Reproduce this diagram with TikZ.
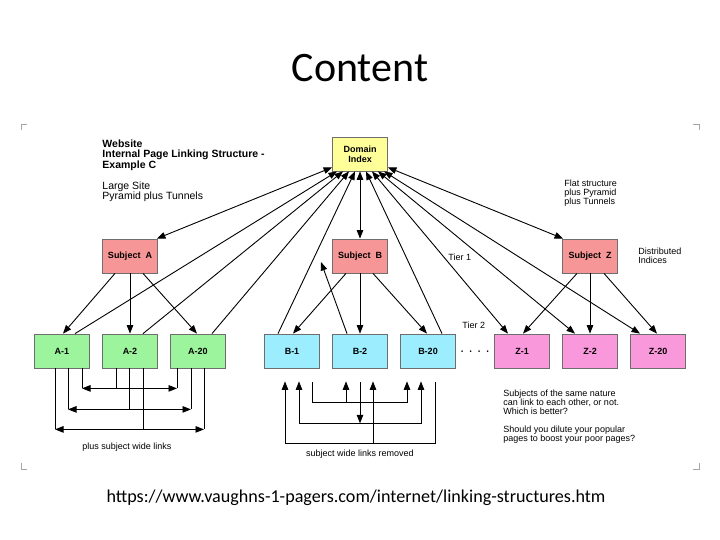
\documentclass[tikz,border=0pt]{standalone}
\usepackage{fontspec}
\setmainfont{Liberation Sans}
\newfontfamily\calfont{Carlito}
\usetikzlibrary{arrows.meta}
\definecolor{diyel}{HTML}{FFFF99}
\definecolor{subred}{HTML}{F79696}
\definecolor{agreen}{HTML}{9CF59C}
\definecolor{bcyan}{HTML}{9CEEFF}
\definecolor{zpink}{HTML}{FA98DC}
\definecolor{boxborder}{HTML}{6E6E6E}
\begin{document}
\begin{tikzpicture}[x=1pt,y=-1pt,line width=0.9pt,
  box/.style={draw=boxborder,line width=0.8pt,minimum width=55pt,minimum height=34pt,inner sep=0pt,
    font=\fontsize{9}{10}\selectfont\bfseries,align=center},
  arr/.style={-{Triangle[length=8.5pt,width=6.5pt]}},
  darr/.style={{Triangle[length=8.5pt,width=6.5pt]}-{Triangle[length=8.5pt,width=6.5pt]}},
  txt/.style={inner sep=0pt,anchor=north west,align=left},
  corner/.style={draw=gray!70,line width=0.8pt}]
\fill[white] (0,0) rectangle (720,540);
\useasboundingbox (0,0) rectangle (720,540);

% title and url
\node[font=\calfont\fontsize{42}{42}\selectfont] (title) at (360,68) {Content};
\node[font=\calfont\fontsize{18.1}{18}\selectfont] (url) at (356,498) {https://www.vaughns-1-pagers.com/internet/linking-structures.htm};

% corner marks
\draw[corner] (21,130) -- (21,124) -- (27,124);
\draw[corner] (693,124) -- (699,124) -- (699,130);
\draw[corner] (21,463) -- (21,469) -- (27,469);
\draw[corner] (693,469) -- (699,469) -- (699,463);

% boxes
\node[box,fill=diyel] (di) at (360,154) {Domain\\Index};
\node[box,fill=subred] (sa) at (130,256) {Subject\ \ A};
\node[box,fill=subred] (sb) at (360,256) {Subject\ \ B};
\node[box,fill=subred] (sz) at (590,256) {Subject\ \ Z};
\node[box,fill=agreen] (a1) at (62,351) {A-1};
\node[box,fill=agreen] (a2) at (130,351) {A-2};
\node[box,fill=agreen] (a20) at (198,351) {A-20};
\node[box,fill=bcyan] (b1) at (292,351) {B-1};
\node[box,fill=bcyan] (b2) at (360,351) {B-2};
\node[box,fill=bcyan] (b20) at (428,351) {B-20};
\node[box,fill=zpink] (z1) at (522,351) {Z-1};
\node[box,fill=zpink] (z2) at (590,351) {Z-2};
\node[box,fill=zpink] (z20) at (658,351) {Z-20};

% texts
\node[txt,font=\fontsize{10.5}{10.5}\selectfont\bfseries] (head) at (102,139)
  {Website\\Internal Page Linking Structure -\\Example C};
\node[txt,font=\fontsize{10.5}{10.5}\selectfont] (large) at (102,181)
  {Large Site\\Pyramid plus Tunnels};
\node[txt,font=\fontsize{9}{9}\selectfont] (flat) at (564,179.5)
  {Flat structure\\plus Pyramid\\plus Tunnels};
\node[txt,font=\fontsize{9}{9}\selectfont] (dist) at (638,247.5)
  {Distributed\\Indices};
\node[txt,font=\fontsize{9}{9}\selectfont] (tier1) at (448,253.5) {Tier 1};
\node[txt,font=\fontsize{9}{9}\selectfont] (tier2) at (462,321.5) {Tier 2};
\node[txt,font=\fontsize{9}{9}\selectfont] (quest) at (503,389.5)
  {Subjects of the same nature\\can link to each other, or not.\\Which is better?\\[9pt]Should you dilute your popular\\pages to boost your poor pages?};
\node[inner sep=0pt,font=\fontsize{9}{9}\selectfont] (plbl) at (127,447) {plus subject wide links};
\node[inner sep=0pt,font=\fontsize{9}{9}\selectfont] (rlbl) at (360,454) {subject wide links removed};
\node[inner sep=0pt,font=\fontsize{14}{14}\selectfont] (dots) at (475,353) {· · · ·};

% domain index <-> subjects
\draw[darr] ([yshift=4pt]di.south west) -- ([xshift=-1pt]sa.north east);
\draw[darr] (di.south) -- (sb.north);
\draw[darr] ([yshift=4pt]di.south east) -- ([xshift=1pt]sz.north west);

% tier 2 -> domain index
\draw[arr] ([xshift=13pt]a1.north) -- ([xshift=-23pt]di.south);
\draw[arr] ([xshift=13pt]a2.north) -- ([xshift=-17pt]di.south);
\draw[arr] ([xshift=14pt]a20.north) -- ([xshift=-11pt]di.south);
\draw[arr] ([xshift=-14pt]b1.north) -- ([xshift=-5pt]di.south);
\coordinate (b2tip) at (321,262);
\draw[arr] ([xshift=-13pt]b2.north) -- (b2tip);
\draw[arr] ([xshift=14pt]b20.north) -- ([xshift=6pt]di.south);
\draw[darr] ([xshift=12pt]di.south) -- ([xshift=-14pt]z1.north);
\draw[darr] ([xshift=18pt]di.south) -- ([xshift=-15pt]z2.north);
\draw[darr] ([xshift=24pt]di.south) -- ([xshift=-18pt]z20.north);

% subjects -> tier 2
\draw[arr] ([xshift=-15pt]sa.south) -- ([xshift=1pt]a1.north);
\draw[arr] (sa.south) -- (a2.north);
\draw[arr] ([xshift=13pt]sa.south) -- ([xshift=-1pt]a20.north);
\draw[arr] ([xshift=-14pt]sb.south) -- ([xshift=1pt]b1.north);
\draw[arr] (sb.south) -- (b2.north);
\draw[arr] ([xshift=13pt]sb.south) -- ([xshift=-1pt]b20.north);
\draw[arr] ([xshift=-13pt]sz.south) -- ([xshift=1pt]z1.north);
\draw[arr] (sz.south) -- (z2.north);
\draw[arr] ([xshift=14pt]sz.south) -- ([xshift=-1pt]z20.north);

% A subject wide links
\draw ([xshift=20pt]a1.south) -- ++(0,20);
\draw ([xshift=-21pt]a20.south) -- ++(0,20);
\draw[arr] ([xshift=-14pt]a2.south) |- ([xshift=20pt,yshift=-20pt]a1.south);
\draw[arr] ([xshift=-14pt]a2.south) |- ([xshift=-21pt,yshift=-20pt]a20.south);
\draw ([xshift=6pt]a1.south) -- ++(0,41);
\draw ([xshift=-7pt]a20.south) -- ++(0,41);
\draw[arr] ([xshift=-1pt]a2.south) |- ([xshift=6pt,yshift=-41pt]a1.south);
\draw[arr] ([xshift=-1pt]a2.south) |- ([xshift=-7pt,yshift=-41pt]a20.south);
\draw ([xshift=-7pt]a1.south) -- ++(0,61);
\draw ([xshift=6pt]a20.south) -- ++(0,61);
\draw[arr] ([xshift=13pt]a2.south) |- ([xshift=-7pt,yshift=-61pt]a1.south);
\draw[arr] ([xshift=13pt]a2.south) |- ([xshift=6pt,yshift=-61pt]a20.south);

% B links removed
\draw[arr] ([xshift=20pt,yshift=-14pt]b1.south) -- ++(0,20) -| ([xshift=-21pt,yshift=-13pt]b20.south);
\draw[arr] ([xshift=-14pt,yshift=-34pt]b2.south) -- ([xshift=-14pt,yshift=-13pt]b2.south);
\draw[arr] ([yshift=-14pt]b2.south) -- ([yshift=-55pt]b2.south);
\draw[darr] ([xshift=7pt,yshift=-13pt]b1.south) -- ++(0,42) -| ([xshift=-7pt,yshift=-13pt]b20.south);
\draw[arr] ([xshift=7pt,yshift=-14pt]b20.south) -- ++(0,61) -| ([xshift=-7pt,yshift=-13pt]b1.south);
\draw[arr] ([xshift=13pt,yshift=-75pt]b2.south) -- ([xshift=13pt,yshift=-13pt]b2.south);
\end{tikzpicture}
\end{document}
